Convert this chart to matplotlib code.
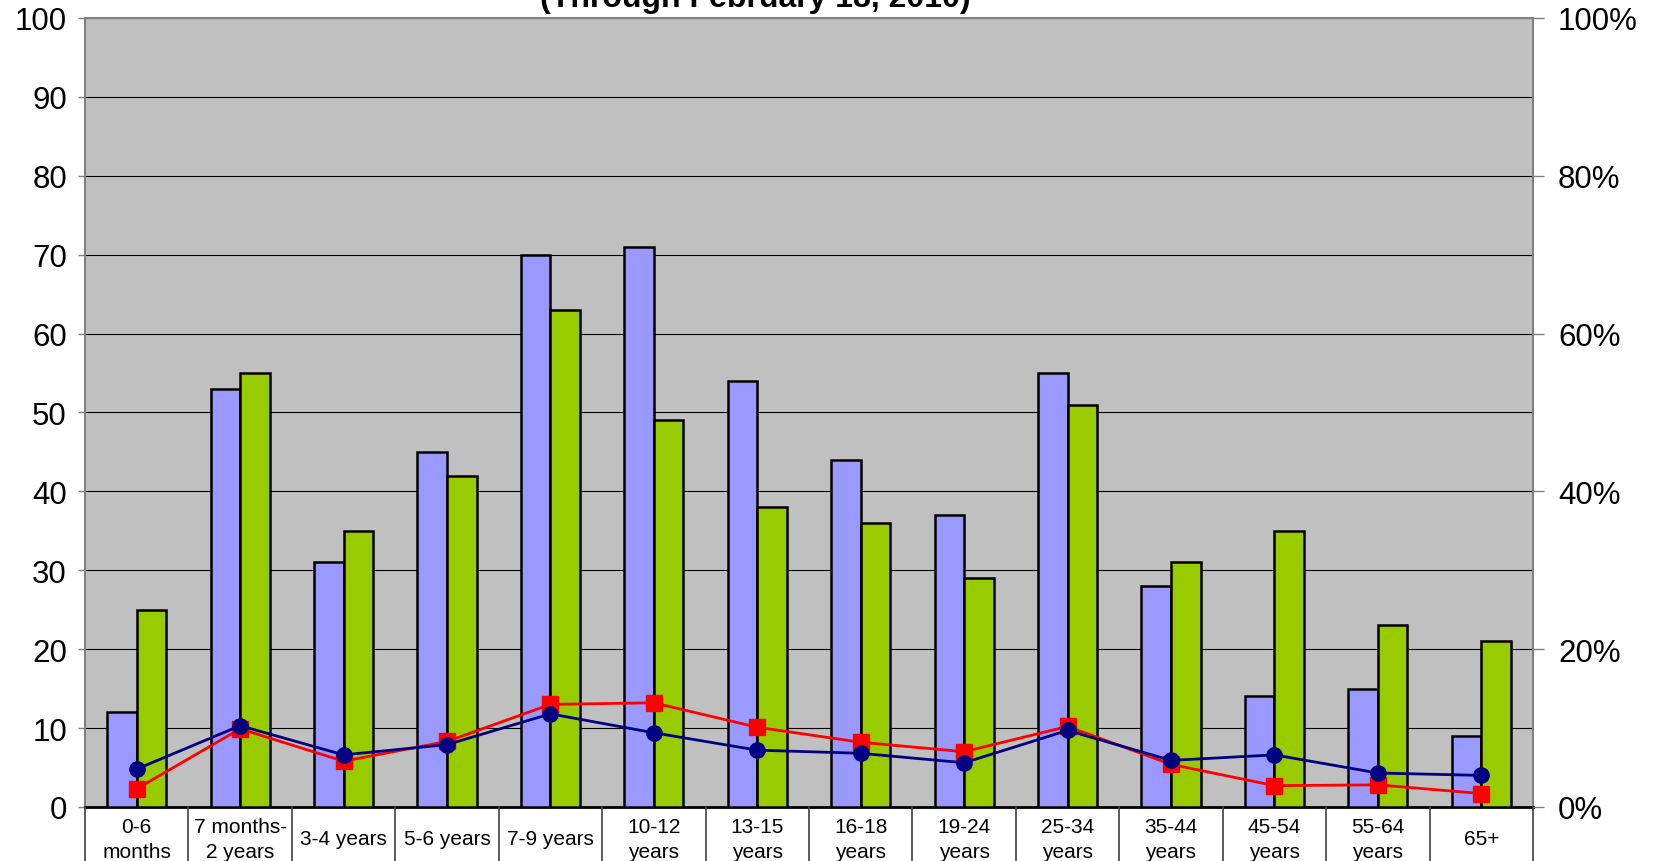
import matplotlib
matplotlib.use("Agg")
import matplotlib.pyplot as plt
import numpy as np
from matplotlib.ticker import FuncFormatter, MultipleLocator

plt.rcParams['font.family'] = ['Liberation Sans', 'DejaVu Sans']

categories = ["0-6\nmonths", "7 months-\n2 years", "3-4 years", "5-6 years", "7-9 years",
              "10-12\nyears", "13-15\nyears", "16-18\nyears", "19-24\nyears", "25-34\nyears",
              "35-44\nyears", "45-54\nyears", "55-64\nyears", "65+"]
series_blue_bars = [12, 53, 31, 45, 70, 71, 54, 44, 37, 55, 28, 14, 15, 9]
series_green_bars = [25, 55, 35, 42, 63, 49, 38, 36, 29, 51, 31, 35, 23, 21]
series_navy_pct = [4.8, 10.3, 6.6, 7.9, 11.8, 9.4, 7.2, 6.8, 5.6, 9.7, 5.9, 6.6, 4.3, 4.0]
series_red_pct = [2.3, 9.9, 5.8, 8.3, 13.0, 13.2, 10.1, 8.2, 7.0, 10.2, 5.4, 2.7, 2.8, 1.7]
title_text = "(Through February 18, 2010)"

fig = plt.figure(figsize=(16.6, 8.62), dpi=100)
ax = fig.add_axes([0.0512, 0.0627, 0.9235 - 0.0512, 0.978 - 0.0627])
ax.set_facecolor('#C0C0C0')

n = len(categories)
x = np.arange(n)
bw = 1 / 3.5
ax.bar(x - bw / 2, series_blue_bars, width=bw, color='#9999FF', edgecolor='black', linewidth=1.8, zorder=3)
ax.bar(x + bw / 2, series_green_bars, width=bw, color='#99CC00', edgecolor='black', linewidth=1.8, zorder=3)
ax.set_xlim(-0.5, n - 0.5)
ax.set_ylim(0, 100)
ax.yaxis.set_major_locator(MultipleLocator(10))
ax.grid(axis='y', color='black', linewidth=0.8, zorder=1)
ax.set_axisbelow(True)
ax.tick_params(axis='y', labelsize=22.5, direction='out', length=5, width=1, color='#808080', pad=8)
ax.set_xticks(x)
ax.set_xticklabels(categories)
ax.tick_params(axis='x', length=0, pad=23)
for lab in ax.get_xticklabels():
    lab.set_fontsize(15)
    lab.set_va('center')
    lab.set_linespacing(1.45)

for s in ['left', 'right', 'top']:
    ax.spines[s].set_color('#808080')
    ax.spines[s].set_linewidth(1.5)
ax.spines['bottom'].set_color('black')
ax.spines['bottom'].set_linewidth(2)

# table grid lines below plot
tr = ax.get_xaxis_transform()
for b in np.arange(-0.5, n, 1.0):
    ax.plot([b, b], [0, -0.2], transform=tr, color='#404040', lw=1.2, clip_on=False, zorder=5)

ax2 = ax.twinx()
ax2.set_ylim(0, 1)
ax2.yaxis.set_major_locator(MultipleLocator(0.2))
ax2.yaxis.set_major_formatter(FuncFormatter(lambda v, p: f"{int(round(v * 100))}%"))
ax2.tick_params(axis='y', labelsize=22.5, direction='out', length=8, width=1, color='#808080', pad=10)
for s in ax2.spines.values():
    s.set_visible(False)
ax2.plot(x, np.array(series_red_pct) / 100, color='#FF0000', lw=2, marker='s', ms=11,
         markeredgecolor='#FF0000', zorder=4)
ax2.plot(x, np.array(series_navy_pct) / 100, color='#000080', lw=2, marker='o', ms=11,
         markeredgecolor='#000080', zorder=5)

fig.text(0.455, 0.9914, title_text, ha='center', va='baseline', fontsize=23, fontweight='bold')

fig.savefig('out.png', dpi=100)
